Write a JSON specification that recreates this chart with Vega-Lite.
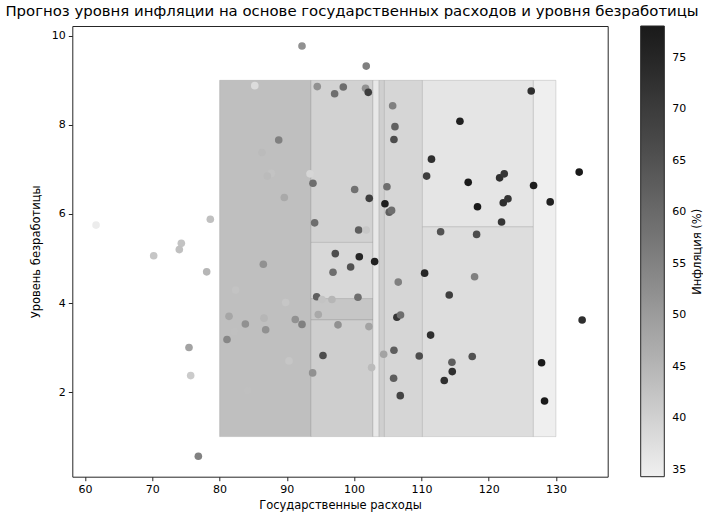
{
  "$schema": "https://vega.github.io/schema/vega-lite/v6.json",
  "width": 535.4,
  "height": 450.7,
  "autosize": {"type": "none"},
  "padding": {"left": 72.3, "top": 26, "right": 95.3, "bottom": 37.3},
  "background": "white",
  "config": {
    "font": "DejaVu Sans",
    "view": {"stroke": "#262626", "strokeWidth": 1},
    "axis": {
      "grid": false,
      "domain": false,
      "tickSize": 4,
      "tickColor": "#262626",
      "labelFontSize": 11,
      "labelColor": "#000000",
      "labelPadding": 3,
      "labelFlush": false,
      "titleFontSize": 11.5,
      "titleFontWeight": "normal",
      "titleColor": "#000000"
    },
    "legend": {"padding": 0, "gradientVerticalMaxLength": 500}
  },
  "title": {
    "text": "Прогноз уровня инфляции на основе государственных расходов и уровня безработицы",
    "fontSize": 14.9,
    "fontWeight": "normal",
    "color": "#000000",
    "anchor": "middle",
    "dx": 12,
    "dy": 16,
    "offset": 8,
    "baseline": "alphabetic"
  },
  "resolve": {"scale": {"y": "independent"}, "axis": {"y": "independent"}},
  "datasets": {
    "regions": [
      {"x1": 80, "x2": 93.6, "y1": 1, "y2": 9, "pred": 41.3},
      {"x1": 93.6, "x2": 102.8, "y1": 5.36, "y2": 9, "pred": 52.8},
      {"x1": 93.6, "x2": 102.8, "y1": 4.1, "y2": 5.36, "pred": 56.2},
      {"x1": 93.6, "x2": 102.8, "y1": 3.62, "y2": 4.1, "pred": 45.3},
      {"x1": 93.6, "x2": 102.8, "y1": 1, "y2": 3.62, "pred": 50.5},
      {"x1": 102.8, "x2": 103.72, "y1": 1, "y2": 9, "pred": 64.9},
      {"x1": 103.72, "x2": 104.5, "y1": 1, "y2": 9, "pred": 51.0},
      {"x1": 104.5, "x2": 110.15, "y1": 1, "y2": 9, "pred": 55.1},
      {"x1": 110.15, "x2": 126.65, "y1": 5.71, "y2": 9, "pred": 63.7},
      {"x1": 110.15, "x2": 126.65, "y1": 1, "y2": 5.71, "pred": 59.1},
      {"x1": 126.65, "x2": 130, "y1": 1, "y2": 9, "pred": 68.9}
    ],
    "points": [
      {"gov": 61.63, "unemp": 5.75, "infl": 35.0},
      {"gov": 78.62, "unemp": 5.88, "infl": 43.0},
      {"gov": 74.31, "unemp": 5.34, "infl": 42.5},
      {"gov": 74.01, "unemp": 5.2, "infl": 43.0},
      {"gov": 70.2, "unemp": 5.06, "infl": 42.0},
      {"gov": 78.08, "unemp": 4.7, "infl": 45.0},
      {"gov": 82.39, "unemp": 4.29, "infl": 42.5},
      {"gov": 81.4, "unemp": 3.7, "infl": 48.0},
      {"gov": 83.83, "unemp": 3.53, "infl": 52.0},
      {"gov": 82.19, "unemp": 3.36, "infl": 43.0},
      {"gov": 81.1, "unemp": 3.18, "infl": 54.0},
      {"gov": 75.45, "unemp": 3.0, "infl": 48.5},
      {"gov": 75.7, "unemp": 2.37, "infl": 41.0},
      {"gov": 84.18, "unemp": 2.03, "infl": 43.0},
      {"gov": 76.84, "unemp": 0.56, "infl": 55.0},
      {"gov": 85.23, "unemp": 8.88, "infl": 38.0},
      {"gov": 86.5, "unemp": 4.87, "infl": 52.0},
      {"gov": 97.2, "unemp": 5.11, "infl": 66.0},
      {"gov": 100.77, "unemp": 5.04, "infl": 75.0},
      {"gov": 103.05, "unemp": 4.93, "infl": 76.5},
      {"gov": 99.48, "unemp": 4.81, "infl": 65.0},
      {"gov": 96.86, "unemp": 4.69, "infl": 59.0},
      {"gov": 110.48, "unemp": 4.67, "infl": 75.0},
      {"gov": 106.56, "unemp": 4.47, "infl": 55.5},
      {"gov": 89.82, "unemp": 4.01, "infl": 42.0},
      {"gov": 94.43, "unemp": 4.14, "infl": 62.0},
      {"gov": 95.22, "unemp": 4.08, "infl": 42.5},
      {"gov": 96.7, "unemp": 4.08, "infl": 45.0},
      {"gov": 100.57, "unemp": 4.13, "infl": 59.0},
      {"gov": 86.6, "unemp": 3.66, "infl": 45.0},
      {"gov": 86.85, "unemp": 3.4, "infl": 52.0},
      {"gov": 91.25, "unemp": 3.63, "infl": 52.0},
      {"gov": 92.25, "unemp": 3.52, "infl": 55.5},
      {"gov": 94.67, "unemp": 3.74, "infl": 47.5},
      {"gov": 97.6, "unemp": 3.51, "infl": 52.0},
      {"gov": 102.2, "unemp": 3.47, "infl": 48.5},
      {"gov": 106.36, "unemp": 3.68, "infl": 71.5},
      {"gov": 106.9, "unemp": 3.73, "infl": 59.0},
      {"gov": 111.37, "unemp": 3.28, "infl": 73.0},
      {"gov": 95.37, "unemp": 2.82, "infl": 66.0},
      {"gov": 90.32, "unemp": 2.7, "infl": 42.0},
      {"gov": 93.83, "unemp": 2.43, "infl": 52.0},
      {"gov": 102.6, "unemp": 2.55, "infl": 44.0},
      {"gov": 104.39, "unemp": 2.85, "infl": 48.5},
      {"gov": 105.92, "unemp": 2.94, "infl": 62.5},
      {"gov": 109.68, "unemp": 2.81, "infl": 66.0},
      {"gov": 105.87, "unemp": 2.31, "infl": 62.5},
      {"gov": 106.86, "unemp": 1.92, "infl": 68.0},
      {"gov": 117.91, "unemp": 4.59, "infl": 55.5},
      {"gov": 114.14, "unemp": 4.18, "infl": 69.5},
      {"gov": 117.56, "unemp": 2.8, "infl": 65.0},
      {"gov": 114.54, "unemp": 2.67, "infl": 62.5},
      {"gov": 114.59, "unemp": 2.46, "infl": 73.0},
      {"gov": 113.4, "unemp": 2.26, "infl": 73.0},
      {"gov": 127.87, "unemp": 2.66, "infl": 78.0},
      {"gov": 128.31, "unemp": 1.8, "infl": 78.0},
      {"gov": 133.9, "unemp": 3.62, "infl": 73.0},
      {"gov": 92.25, "unemp": 9.77, "infl": 52.0},
      {"gov": 101.8, "unemp": 9.32, "infl": 55.5},
      {"gov": 94.52, "unemp": 8.86, "infl": 52.0},
      {"gov": 97.1, "unemp": 8.7, "infl": 59.0},
      {"gov": 98.39, "unemp": 8.85, "infl": 59.0},
      {"gov": 101.7, "unemp": 8.82, "infl": 52.0},
      {"gov": 102.1, "unemp": 8.73, "infl": 69.5},
      {"gov": 105.73, "unemp": 8.43, "infl": 55.5},
      {"gov": 106.07, "unemp": 7.96, "infl": 61.7},
      {"gov": 105.92, "unemp": 7.67, "infl": 66.0},
      {"gov": 88.79, "unemp": 7.66, "infl": 55.5},
      {"gov": 86.3, "unemp": 7.38, "infl": 44.0},
      {"gov": 87.69, "unemp": 6.91, "infl": 42.5},
      {"gov": 87.09, "unemp": 6.85, "infl": 44.0},
      {"gov": 93.44, "unemp": 6.9, "infl": 39.0},
      {"gov": 93.88, "unemp": 6.69, "infl": 59.0},
      {"gov": 89.62, "unemp": 6.37, "infl": 47.5},
      {"gov": 100.08, "unemp": 6.55, "infl": 58.5},
      {"gov": 102.25, "unemp": 6.35, "infl": 69.5},
      {"gov": 104.88, "unemp": 6.61, "infl": 59.0},
      {"gov": 104.58, "unemp": 6.23, "infl": 77.0},
      {"gov": 105.22, "unemp": 6.04, "infl": 62.5},
      {"gov": 105.57, "unemp": 6.08, "infl": 59.0},
      {"gov": 94.13, "unemp": 5.8, "infl": 59.0},
      {"gov": 100.67, "unemp": 5.64, "infl": 62.5},
      {"gov": 101.8, "unemp": 5.64, "infl": 41.7},
      {"gov": 111.5, "unemp": 7.23, "infl": 73.0},
      {"gov": 110.78, "unemp": 6.85, "infl": 69.5},
      {"gov": 126.33, "unemp": 8.76, "infl": 73.0},
      {"gov": 115.73, "unemp": 8.08, "infl": 76.5},
      {"gov": 116.96, "unemp": 6.71, "infl": 78.0},
      {"gov": 121.63, "unemp": 6.81, "infl": 73.0},
      {"gov": 122.32, "unemp": 6.9, "infl": 71.5},
      {"gov": 126.68, "unemp": 6.64, "infl": 77.0},
      {"gov": 133.46, "unemp": 6.94, "infl": 78.0},
      {"gov": 129.15, "unemp": 6.27, "infl": 76.5},
      {"gov": 118.34, "unemp": 6.16, "infl": 78.0},
      {"gov": 122.17, "unemp": 6.25, "infl": 73.0},
      {"gov": 122.87, "unemp": 6.34, "infl": 71.5},
      {"gov": 121.92, "unemp": 5.82, "infl": 71.5},
      {"gov": 112.86, "unemp": 5.6, "infl": 65.0},
      {"gov": 118.21, "unemp": 5.54, "infl": 66.0}
    ]
  },
  "layer": [
    {
      "resolve": {"scale": {"color": "independent"}, "legend": {"color": "independent"}},
      "layer": [
        {
          "data": {"name": "regions"},
          "mark": {"type": "rect", "stroke": "#8c8c8c", "strokeWidth": 0.8, "strokeOpacity": 0.35},
          "encoding": {
            "x": {"field": "x1", "type": "quantitative", "title": "Государственные расходы",
                  "scale": {"domain": [58.1, 137.7], "nice": false, "zero": false},
                  "axis": {"values": [60, 70, 80, 90, 100, 110, 120, 130], "titlePadding": 5}},
            "x2": {"field": "x2"},
            "y": {"field": "y1", "type": "quantitative", "title": "Уровень безработицы",
                  "scale": {"domain": [0.1, 10.22], "nice": false, "zero": false},
                  "axis": {"values": [2, 4, 6, 8, 10], "titlePadding": 10}},
            "y2": {"field": "y2"},
            "color": {"field": "pred", "type": "quantitative",
                     "scale": {"domain": [34.35, 78.1], "range": ["#b3b3b3", "#ffffff"]},
                     "legend": null}
          }
        },
        {
          "data": {"name": "points"},
          "mark": {"type": "circle", "size": 58, "opacity": 1},
          "encoding": {
            "x": {"field": "gov", "type": "quantitative", "title": "Государственные расходы"},
            "y": {"field": "unemp", "type": "quantitative", "title": "Уровень безработицы"},
            "color": {"field": "infl", "type": "quantitative",
                      "scale": {"domain": [34.35, 78.1], "range": ["#f0f0f0", "#1a1a1a"], "nice": false, "zero": false},
                      "legend": {
                        "type": "gradient",
                        "title": null,
                        "orient": "none",
                        "legendX": 568.4,
                        "legendY": 0,
                        "direction": "vertical",
                        "gradientLength": 450.7,
                        "gradientThickness": 23.6,
                        "gradientStrokeColor": "#262626",
                        "gradientStrokeWidth": 1,
                        "values": [35, 40, 45, 50, 55, 60, 65, 70, 75],
                        "labelFontSize": 11,
                        "labelColor": "#000000",
                        "labelOffset": 8
                      }}
          }
        }
      ]
    },
    {
      "data": {"name": "points"},
      "mark": {"type": "circle", "size": 58, "opacity": 0},
      "encoding": {
        "x": {"field": "gov", "type": "quantitative", "title": "Государственные расходы"},
        "y": {"field": "infl", "type": "quantitative",
              "scale": {"domain": [34.35, 78.1], "nice": false, "zero": false},
              "axis": {
                "orient": "right",
                "title": "Инфляция (%)",
                "labels": false,
                "ticks": false,
                "domain": false,
                "grid": false,
                "titleAngle": 270,
                "titleBaseline": "top",
                "titleAnchor": "middle",
                "titlePadding": 83.5
              }}
      }
    }
  ]
}
